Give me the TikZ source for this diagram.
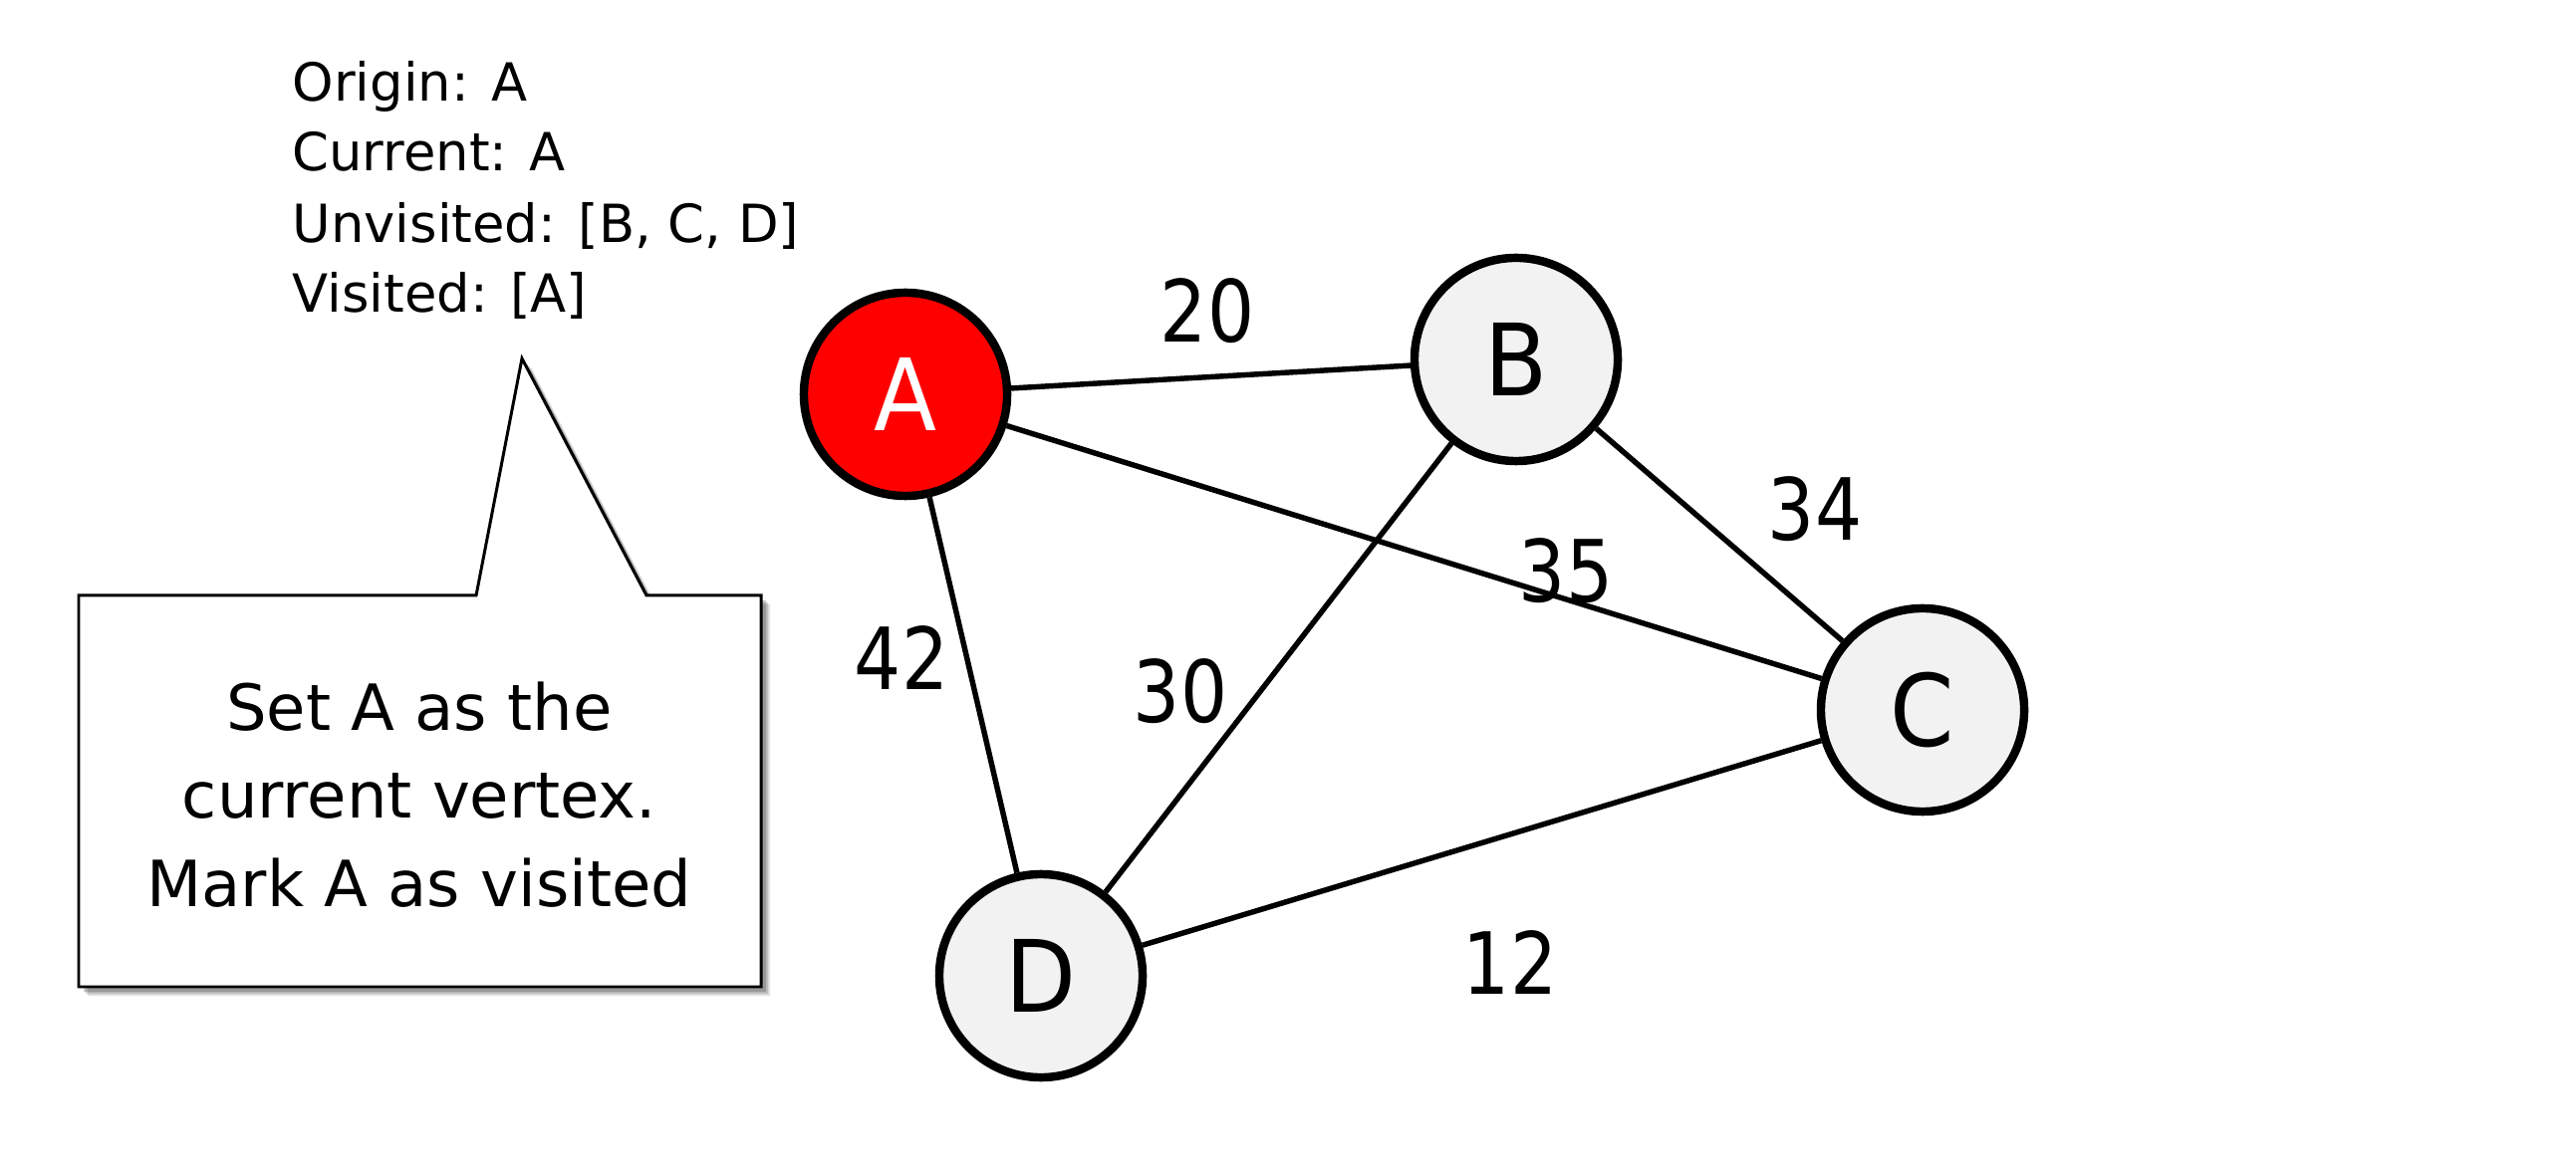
\documentclass[tikz,border=0pt]{standalone}
\usepackage{fontspec}
\setmainfont{DejaVu Sans}
\newfontfamily\narrowfont[FakeStretch=0.86]{DejaVu Sans}
\newfontfamily\letterfont[FakeStretch=0.92]{DejaVu Sans}
\definecolor{nodegray}{RGB}{242,242,242}
\definecolor{nodered}{RGB}{255,0,0}
\tikzset{
  vertex/.style={circle, draw=black, line width=2.4pt, fill=nodegray, minimum size=2.04cm, inner sep=0pt,
    font=\letterfont\fontsize{28.5}{30}\selectfont},
  current/.style={vertex, fill=nodered, text=white},
  edge/.style={line width=1.55pt, black},
  weight/.style={inner sep=0pt, font=\narrowfont\fontsize{24.5}{26}\selectfont},
  info/.style={anchor=base west, inner sep=0pt, font=\fontsize{15}{17}\selectfont},
  calltext/.style={anchor=base, inner sep=0pt, font=\fontsize{18.2}{20}\selectfont},
  callout/.style={draw=black, line width=0.85pt, fill=white, line join=miter}
}
\begin{document}
\begin{tikzpicture}[x=0.01cm, y=-0.01cm]
\useasboundingbox[fill=white] (0,0) rectangle (2586,1174);

% info text
\node[info] (t1) at (293,102) {Origin: A};
\node[info] (t2) at (293,172) {Current: A};
\node[info] (t3) at (293,244) {Unvisited: [B, C, D]};
\node[info] (t4) at (293,314) {Visited: [A]};

% callout shadow
\foreach \o/\a in {9/0.12, 7/0.15, 5/0.2}{
  \fill[black, opacity=\a, shift={(\o,\o)}] (79,598) -- (478,598) -- (524,360) -- (649,598) -- (764,598) -- (764,991) -- (79,991) -- cycle;
}
% callout
\draw[callout] (79,598) -- (478,598) -- (524,360) -- (649,598) -- (764,598) -- (764,991) -- (79,991) -- cycle;
\node[calltext] (c1) at (421,734) {Set A as the};
\node[calltext] (c2) at (421,822) {current vertex.};
\node[calltext] (c3) at (421,910) {Mark A as visited};

% vertices
\node[current] (A) at (909,396) {A};
\node[vertex] (B) at (1522,361) {B};
\node[vertex] (C) at (1930,713) {C};
\node[vertex] (D) at (1045,980) {D};

% edges
\draw[edge] (A) -- (B);
\draw[edge] (A) -- (C);
\draw[edge] (A) -- (D);
\draw[edge] (B) -- (C);
\draw[edge] (B) -- (D);
\draw[edge] (D) -- (C);

% weights
\node[weight] (w20) at (1212,312) {20};
\node[weight] (w34) at (1822,511) {34};
\node[weight] (w35) at (1572,573) {35};
\node[weight] (w42) at (905,661) {42};
\node[weight] (w30) at (1185,694) {30};
\node[weight] (w12) at (1516,967) {12};
\end{tikzpicture}
\end{document}
